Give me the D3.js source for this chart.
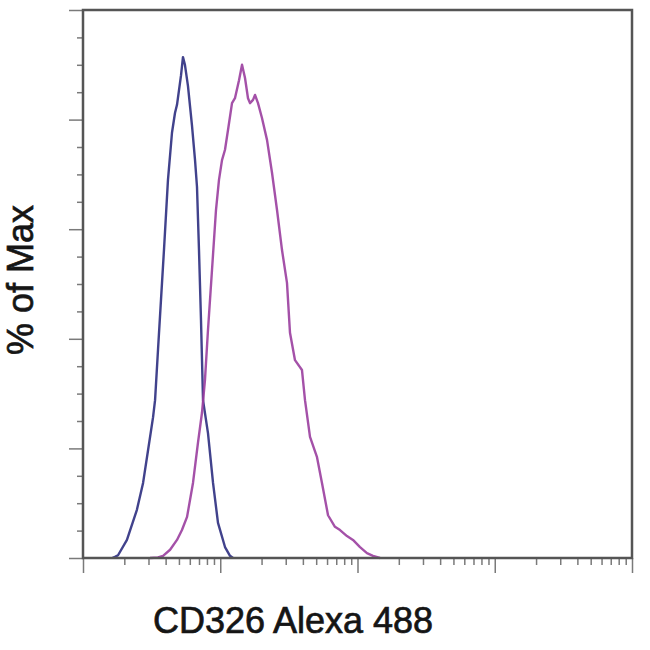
<!DOCTYPE html>
<html>
<head>
<meta charset="utf-8">
<script src="https://cdn.jsdelivr.net/npm/d3@7"></script>
<style>
  html, body { margin: 0; padding: 0; background: #fff; }
  svg { display: block; }
</style>
</head>
<body>
<svg id="chart" width="650" height="650"></svg>
<script>
// Data (fluorescence intensity, % of Max)
const isotypeX = [1.63, 1.71, 1.80, 2.09, 2.47, 2.74, 2.98, 3.24, 3.35, 3.52, 3.70, 3.89, 4.16, 4.45, 4.68, 4.84, 5.18, 5.35, 5.53, 5.82, 6.22, 6.55, 6.77, 7.00, 7.24, 7.49, 8.14, 8.86, 9.63, 10.83, 11.78, 12.39];
const isotypeY = [0, 0.2, 0.5, 3.3, 8.8, 13.7, 19.7, 25.7, 28.8, 38.0, 47.1, 56.2, 69.0, 77.6, 81.2, 82.7, 88.1, 91.4, 90.0, 86.1, 79.0, 72.6, 67.7, 56.2, 43.4, 28.8, 22.8, 13.7, 6.4, 2.0, 0.4, 0];

const cd326X = [3.08, 3.52, 3.83, 4.31, 4.84, 5.26, 5.73, 6.33, 6.88, 7.36, 7.74, 8.14, 8.71, 9.31, 9.79, 10.30, 10.83, 11.39, 12.18, 12.80, 13.70, 14.41, 15.15, 15.93, 16.47, 17.33, 17.92, 18.84, 20.14, 21.91, 23.83, 25.92, 28.18, 30.64, 32.22, 35.04, 39.40, 41.45, 45.08, 50.70, 55.1, 61.0, 68.5, 74.6, 83.8, 92.7, 104.3, 117.2, 129.7, 145.8];
const cd326Y = [0, 0.1, 0.4, 1.5, 3.3, 5.1, 7.5, 13.7, 21.0, 26.5, 32.5, 41.6, 52.6, 63.5, 69.0, 72.6, 74.5, 78.1, 83.0, 83.9, 87.2, 90.0, 87.6, 83.9, 83.0, 83.6, 84.5, 83.0, 80.3, 76.3, 70.3, 63.5, 56.2, 50.2, 41.1, 36.1, 34.3, 28.8, 22.1, 18.4, 13.7, 7.8, 5.7, 5.1, 4.0, 3.3, 2.0, 0.9, 0.4, 0];

const xDomain = [1, 10000];
const yDomain = [0, 100];
const yMajorTicks = [0, 20, 40, 60, 80, 100];
const yMinorTicks = [5, 10, 15, 25, 30, 35, 45, 50, 55, 65, 70, 75, 85, 90, 95];
const xDecades = [1, 10, 100, 1000, 10000];
const xMinorMultipliers = [2, 3, 4, 5, 6, 7, 8, 9];

const xTitle = "CD326 Alexa 488";
const yTitle = "% of Max";

const seriesColors = ["#2c2d80", "#9a3e9e"];

// Layout
const svg = d3.select("#chart");
const mLeft = 83, mRight = 632, mTop = 10, mBottom = 558;

const x = d3.scaleLog().domain(xDomain).range([mLeft, mRight]);
const y = d3.scaleLinear().domain(yDomain).range([mBottom, mTop]);

const xMinorTicks = [];
xDecades.slice(0, -1).forEach(d => xMinorMultipliers.forEach(m => xMinorTicks.push(d * m)));

const yMajAxis = d3.axisLeft(y).tickValues(yMajorTicks).tickSize(14).tickFormat("");
const yMinAxis = d3.axisLeft(y).tickValues(yMinorTicks).tickSize(6).tickFormat("");
const xMajAxis = d3.axisBottom(x).tickValues(xDecades).tickSize(15).tickFormat("");
const xMinAxis = d3.axisBottom(x).tickValues(xMinorTicks).tickSize(7).tickFormat("");

function styleAxis(g) {
  g.select(".domain").remove();
  g.selectAll(".tick line").attr("stroke", "#7a7a7a").attr("stroke-width", 1.5);
}
svg.append("g").attr("transform", `translate(${mLeft},0)`).call(yMajAxis).call(styleAxis);
svg.append("g").attr("transform", `translate(${mLeft},0)`).call(yMinAxis).call(styleAxis);
svg.append("g").attr("transform", `translate(0,${mBottom})`).call(xMajAxis).call(styleAxis);
svg.append("g").attr("transform", `translate(0,${mBottom})`).call(xMinAxis).call(styleAxis);

// Curves
const line = d3.line().x(d => x(d[0])).y(d => y(d[1])).curve(d3.curveLinear);
const series = [
  d3.zip(isotypeX, isotypeY),
  d3.zip(cd326X, cd326Y)
];
series.forEach((s, i) => {
  svg.append("path")
    .datum(s)
    .attr("d", line)
    .attr("fill", "none")
    .attr("stroke", seriesColors[i])
    .attr("stroke-width", 2.4)
    .attr("stroke-linejoin", "round")
    .attr("opacity", 0.9);
});

// Frame
svg.append("rect")
  .attr("x", mLeft).attr("y", mTop)
  .attr("width", mRight - mLeft).attr("height", mBottom - mTop)
  .attr("fill", "none")
  .attr("stroke", "#555")
  .attr("stroke-width", 2.5);

// Titles
svg.append("text")
  .attr("x", 293).attr("y", 633)
  .attr("text-anchor", "middle")
  .attr("font-family", "'Liberation Sans', Arial, sans-serif")
  .attr("font-size", 36)
  .attr("fill", "#151515")
  .attr("stroke", "#151515")
  .attr("stroke-width", 0.7)
  .text(xTitle);

svg.append("text")
  .attr("transform", "translate(33,280) rotate(-90)")
  .attr("text-anchor", "middle")
  .attr("font-family", "'Liberation Sans', Arial, sans-serif")
  .attr("font-size", 36)
  .attr("fill", "#151515")
  .attr("stroke", "#151515")
  .attr("stroke-width", 0.7)
  .text(yTitle);
</script>
</body>
</html>
